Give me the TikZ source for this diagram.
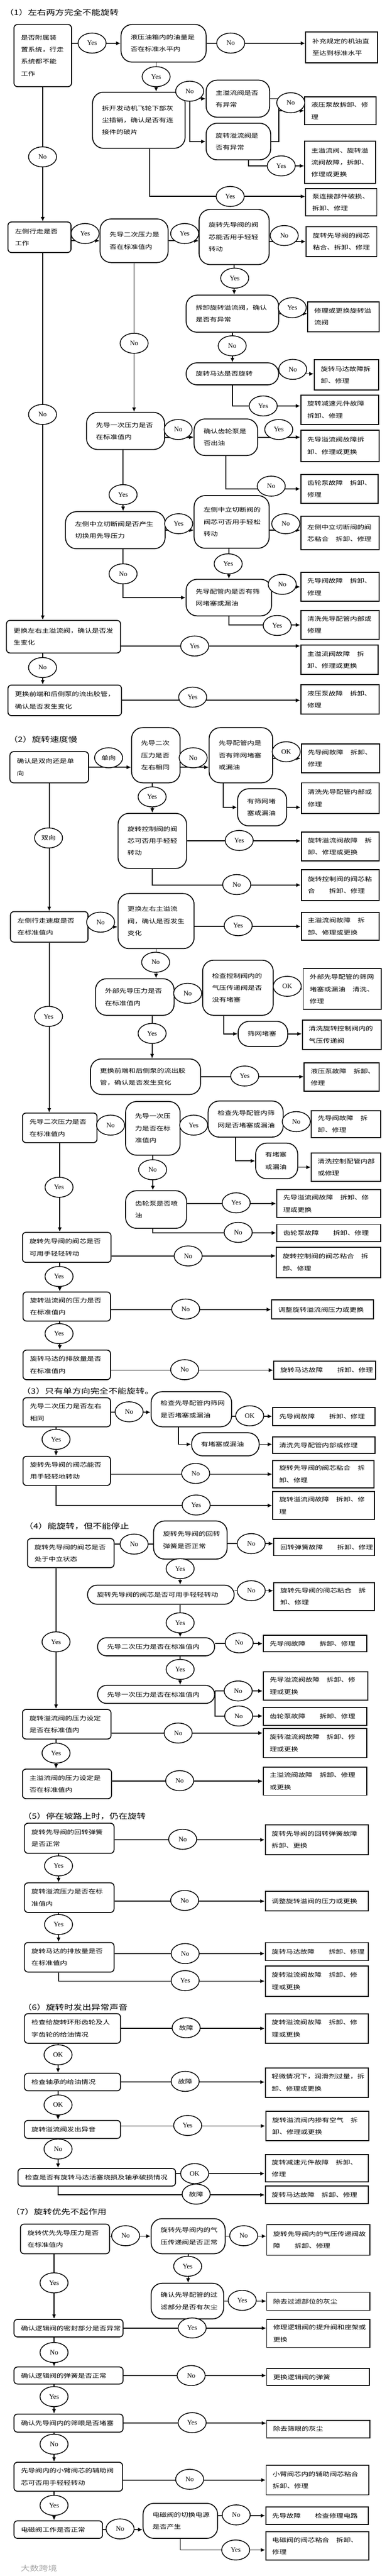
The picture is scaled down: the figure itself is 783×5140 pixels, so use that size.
\documentclass[tikz,border=0pt]{standalone}
\usepackage{fontspec}
\setmainfont{Liberation Serif}
\newfontfamily\cjk[FakeStretch=1.25]{Noto Sans CJK SC}
\usepackage{tikz}
\usetikzlibrary{positioning,shapes.geometric,arrows.meta,backgrounds}
\newcommand{\boxfont}{\cjk\fontsize{11.4pt}{24pt}\selectfont}
\newcommand{\hdfont}{\cjk\fontsize{14.5pt}{18pt}\selectfont}
\newcommand{\ynfont}{\fontsize{13.5pt}{15pt}\selectfont}
\tikzset{
	qbox/.style={draw,line width=1.8pt,rounded corners=7pt,anchor=north west,inner xsep=14pt,inner ysep=0pt,align=left,font=\boxfont},
	sbox/.style={draw,line width=1.8pt,rounded corners=22pt,anchor=north west,inner xsep=19pt,inner ysep=0pt,align=left,font=\boxfont},
	abox/.style={draw,line width=2pt,anchor=north west,inner xsep=13pt,inner ysep=0pt,align=left,font=\boxfont},
	yn/.style={draw,ellipse,line width=1.6pt,fill=white,minimum width=56pt,minimum height=40pt,inner sep=0pt,font=\ynfont},
	ynz/.style={yn,font=\boxfont},
	hd/.style={anchor=west,font=\hdfont},
	wire/.style={line width=1.8pt},
	arrw/.style={wire,-{Latex[length=9pt,width=8pt]}},
}
\begin{document}
\begin{tikzpicture}[x=1pt,y=-1pt]
		\useasboundingbox (0,0) rectangle (783,5140);

		\node[hd] (h1) at (6,25) {（1）左右两方完全不能旋转};
		\node[qbox,text width=87pt,minimum height=124pt] (q1a) at (27,48) {是否附属装\\置系统，行走\\系统都不能\\工作};
		\node[sbox,text width=132pt,minimum height=75pt] (q1b) at (241,48) {液压油箱内的油量是\\否在标准水平内};
		\node[abox,text width=118pt,minimum height=61pt] (f1a) at (610,63) {补充规定的机油直\\至达到标准水平};
		\node[sbox,text width=147pt,minimum height=112pt] (q1c) at (184,183) {拆开发动机飞轮下部灰\\尘插销，确认是否有连\\接件的破片};
		\node[sbox,text width=89pt,minimum height=74pt] (q1d) at (411,159) {主溢流阀是否\\有异常};
		\node[sbox,text width=91pt,minimum height=73pt] (q1e) at (411,245) {旋转溢流阀是\\否有异常};
		\node[abox,text width=116pt,minimum height=56pt] (f1b) at (608,192) {液压泵故拆卸、修\\理};
		\node[abox,text width=115pt,minimum height=84pt] (f1c) at (608,281) {主溢流阀、旋转溢\\流阀故障，拆卸、\\修理或更换};
		\node[abox,text width=116pt,minimum height=55pt] (f1d) at (610,375) {泵连接部件破损、\\拆卸、修理};
		\node[qbox,text width=98pt,minimum height=61pt] (q1f) at (15,442) {左侧行走是否\\工作};
		\node[sbox,text width=98pt,minimum height=87pt] (q1g) at (199,436) {先导二次压力是\\否在标准值内};
		\node[sbox,text width=102pt,minimum height=110pt] (q1h) at (397,417) {旋转先导阀的阀\\芯能否用手轻轻\\转动};
		\node[abox,text width=115pt,minimum height=60pt] (f1e) at (611,451) {旋转先导阀的阀芯\\粘合、拆卸、修理};
		\node[sbox,text width=147pt,minimum height=74pt] (q1i) at (371,588) {拆卸旋转溢流阀，确认\\是否有异常};
		\node[abox,text width=117pt,minimum height=60pt] (f1f) at (614,601) {修理或更换旋转溢\\流阀};
		\node[sbox,text width=147pt,minimum height=44pt] (q1j) at (371,723) {旋转马达是否旋转};
		\node[abox,text width=103pt,minimum height=60pt] (f1g) at (627,717) {旋转马达故障拆\\卸、修理};
		\node[abox,text width=130pt,minimum height=59pt] (f1h) at (600,787) {旋转减速元件故障\\拆卸、修理};
		\node[sbox,text width=118pt,minimum height=74pt] (q1k) at (172,822) {先导一次压力是否\\在标准值内};
		\node[sbox,text width=89pt,minimum height=73pt] (q1l) at (387,835) {确认齿轮泵是\\否出油};
		\node[abox,text width=131pt,minimum height=63pt] (f1i) at (600,857) {先导溢流阀故障拆\\卸、修理或更换};
		\node[abox,text width=129pt,minimum height=57pt] (f1j) at (600,946) {齿轮泵故障　拆卸、\\修理};
		\node[sbox,text width=161pt,minimum height=74pt] (q1m) at (130,1020) {左侧中立切断阀是否产生\\切换用先导压力};
		\node[sbox,text width=112pt,minimum height=105pt] (q1n) at (387,988) {左侧中立切断阀的\\阀芯可否用手轻松\\转动};
		\node[abox,text width=131pt,minimum height=67pt] (f1k) at (600,1029) {左侧中立切断阀的阀\\芯粘合　拆卸、修理};
		\node[sbox,text width=133pt,minimum height=73pt] (q1o) at (371,1155) {先导配管内是否有筛\\网堵塞或漏油};
		\node[abox,text width=131pt,minimum height=58pt] (f1l) at (600,1141) {先导阀故障　拆卸、\\修理};
		\node[abox,text width=131pt,minimum height=58pt] (f1m) at (600,1217) {清洗先导配管内部或\\修理};
		\node[qbox,text width=200pt,minimum height=65pt] (q1p) at (12,1237) {更换左右主溢流阀，确认是否发\\生变化};
		\node[abox,text width=129pt,minimum height=59pt] (f1n) at (600,1286) {主溢流阀故障　拆\\卸、修理或更换};
		\node[qbox,text width=199pt,minimum height=61pt] (q1q) at (15,1366) {更换前端和后侧泵的流出胶管，\\确认是否发生变化};
		\node[abox,text width=131pt,minimum height=59pt] (f1o) at (600,1365) {液压泵故障　拆卸、\\修理};

		\node[yn] (t1a) at (184,86) {Yes};
		\node[yn] (t1b) at (461,86) {No};
		\node[yn] (t1c) at (312,153) {Yes};
		\node[yn] (t1d) at (379,182) {No};
		\node[yn] (t1e) at (581,205) {No};
		\node[yn] (t1f) at (562,331) {Yes};
		\node[yn] (t1g) at (460,392) {Yes};
		\node[yn] (t1h) at (85,313) {No};
		\node[yn] (t1i) at (170,466) {Yes};
		\node[yn] (t1j) at (369,466) {Yes};
		\node[yn] (t1k) at (568,470) {No};
		\node[yn] (t1l) at (469,555) {Yes};
		\node[yn] (t1m) at (584,614) {Yes};
		\node[yn] (t1n) at (464,690) {No};
		\node[yn] (t1o) at (585,737) {No};
		\node[yn] (t1p) at (526,810) {Yes};
		\node[yn] (t1q) at (268,685) {No};
		\node[yn] (t1r) at (85,827) {No};
		\node[yn] (t1s) at (356,857) {No};
		\node[yn] (t1t) at (557,857) {Yes};
		\node[yn] (t1u) at (542,970) {No};
		\node[yn] (t1v) at (246,987) {Yes};
		\node[yn] (t1w) at (357,1045) {Yes};
		\node[yn] (t1x) at (571,1045) {No};
		\node[yn] (t1y) at (456,1125) {Yes};
		\node[yn] (t1z) at (246,1145) {No};
		\node[yn] (t1A) at (564,1166) {No};
		\node[yn] (t1B) at (554,1248) {Yes};
		\node[yn] (t1C) at (389,1289) {Yes};
		\node[yn] (t1D) at (85,1332) {No};
		\node[yn] (t1E) at (385,1391) {Yes};

		\node[hd] (h2) at (14,1475) {（2）旋转速度慢};
		\node[qbox,text width=129pt,minimum height=62pt] (q2a) at (19,1499) {确认是双向还是单\\向};
		\node[sbox,text width=59pt,minimum height=110pt] (q2b) at (262,1451) {先导二次\\压力是否\\左右相同};
		\node[sbox,text width=89pt,minimum height=110pt] (q2c) at (417,1451) {先导配管内是\\否有筛网堵塞\\或漏油};
		\node[abox,text width=131pt,minimum height=58pt] (f2a) at (601,1483) {先导阀故障　拆卸、\\修理};
		\node[sbox,text width=60pt,minimum height=74pt] (q2d) at (474,1573) {有筛网堵\\塞或漏油};
		\node[abox,text width=130pt,minimum height=61pt] (f2b) at (601,1561) {清洗先导配管内部或\\修理};
		\node[sbox,text width=99pt,minimum height=110pt] (q2e) at (235,1622) {旋转控制阀的阀\\芯可否用手轻轻\\转动};
		\node[abox,text width=130pt,minimum height=58pt] (f2c) at (601,1659) {旋转溢流阀故障　拆\\卸、修理或更换};
		\node[abox,text width=130pt,minimum height=62pt] (f2d) at (601,1734) {旋转控制阀的阀芯粘\\合　　拆卸、修理};
		\node[qbox,text width=127pt,minimum height=61pt] (q2f) at (20,1818) {左侧行走速度是否\\在标准值内};
		\node[sbox,text width=114pt,minimum height=110pt] (q2g) at (235,1782) {更换左右主溢流\\阀，确认是否发生\\变化};
		\node[abox,text width=130pt,minimum height=55pt] (f2e) at (601,1820) {主溢流阀故障　拆\\卸、修理或更换};
		\node[sbox,text width=119pt,minimum height=73pt] (q2h) at (190,1952) {外部先导压力是否\\在标准值内};
		\node[sbox,text width=103pt,minimum height=110pt] (q2i) at (404,1915) {检查控制阀内的\\气压传递阀是否\\没有堵塞};
		\node[abox,text width=130pt,minimum height=81pt] (f2f) at (605,1932) {外部先导配管的筛网\\堵塞或漏油　清洗、\\修理};
		\node[sbox,text width=61pt,minimum height=50pt] (q2j) at (475,2037) {筛网堵塞};
		\node[abox,text width=132pt,minimum height=59pt] (f2g) at (603,2034) {清洗旋转控制阀内的\\气压传递阀};
		\node[sbox,text width=182pt,minimum height=71pt] (q2k) at (180,2112) {更换前端和后侧泵的流出胶\\管，确认是否发生变化};
		\node[abox,text width=124pt,minimum height=56pt] (f2h) at (607,2120) {液压泵故障　拆卸、\\修理};
		\node[qbox,text width=121pt,minimum height=59pt] (q2l) at (44,2220) {先导二次压力是否\\在标准值内};
		\node[sbox,text width=71pt,minimum height=107pt] (q2m) at (250,2197) {先导一次压\\力是否在标\\准值内};
		\node[sbox,text width=112pt,minimum height=72pt] (q2n) at (415,2196) {检查先导配管内筛\\网是否堵塞或漏油};
		\node[abox,text width=113pt,minimum height=54pt] (f2i) at (621,2215) {先导阀故障　拆\\卸、修理};
		\node[sbox,text width=46pt,minimum height=71pt] (q2o) at (510,2280) {有堵塞\\或漏油};
		\node[abox,text width=113pt,minimum height=56pt] (f2j) at (621,2300) {清洗控制配管内部\\或修理};
		\node[sbox,text width=84pt,minimum height=75pt] (q2p) at (250,2375) {齿轮泵是否喷\\油};
		\node[abox,text width=182pt,minimum height=55pt] (f2k) at (552,2373) {先导溢流阀故障　拆卸、修\\理或更换};
		\node[abox,text width=182pt,minimum height=34pt] (f2l) at (552,2442) {齿轮泵故障　　拆卸、修理};
		\node[qbox,text width=149pt,minimum height=60pt] (q2q) at (44,2458) {旋转先导阀的阀芯是否\\可用手轻轻转动};
		\node[abox,text width=183pt,minimum height=60pt] (f2m) at (551,2488) {旋转控制阀的阀芯粘合　拆\\卸、修理};
		\node[qbox,text width=147pt,minimum height=58pt] (q2r) at (45,2577) {旋转溢流阀的压力是否\\在标准值内};
		\node[abox,text width=177pt,minimum height=38pt] (f2n) at (542,2593) {调整旋转溢流阀压力或更换};
		\node[qbox,text width=147pt,minimum height=59pt] (q2s) at (45,2693) {旋转马达的排放量是否\\在标准值内};
		\node[abox,text width=177pt,minimum height=36pt] (f2o) at (546,2715) {旋转马达故障　　拆卸、修理};

		\node[ynz] (t2a) at (217,1512) {单向};
		\node[yn] (t2b) at (386,1512) {No};
		\node[yn] (t2c) at (572,1500) {OK};
		\node[yn] (t2d) at (304,1590) {Yes};
		\node[yn] (t2e) at (478,1677) {Yes};
		\node[ynz] (t2f) at (97,1672) {双向};
		\node[yn] (t2g) at (473,1765) {No};
		\node[yn] (t2h) at (201,1840) {No};
		\node[yn] (t2i) at (476,1847) {Yes};
		\node[yn] (t2j) at (311,1920) {No};
		\node[yn] (t2k) at (375,1982) {No};
		\node[yn] (t2l) at (574,1968) {OK};
		\node[yn] (t2m) at (304,2062) {Yes};
		\node[yn] (t2n) at (489,2147) {Yes};
		\node[yn] (t2o) at (97,2028) {Yes};
		\node[yn] (t2p) at (221,2245) {No};
		\node[yn] (t2q) at (387,2245) {Yes};
		\node[yn] (t2r) at (592,2238) {No};
		\node[yn] (t2s) at (305,2334) {No};
		\node[yn] (t2t) at (472,2400) {Yes};
		\node[yn] (t2u) at (476,2459) {No};
		\node[yn] (t2v) at (118,2369) {Yes};
		\node[yn] (t2w) at (376,2506) {No};
		\node[yn] (t2x) at (118,2547) {Yes};
		\node[yn] (t2y) at (371,2612) {No};
		\node[yn] (t2z) at (118,2661) {Yes};
		\node[yn] (t2A) at (369,2733) {No};

		\node[hd] (h3) at (40,2776) {（3）只有单方向完全不能旋转。};
		\node[qbox,text width=147pt,minimum height=58pt] (q3a) at (45,2788) {先导二次压力是否左右\\相同};
		\node[sbox,text width=123pt,minimum height=70pt] (q3b) at (301,2776) {检查先导配管内筛网\\是否堵塞或漏油};
		\node[abox,text width=178pt,minimum height=36pt] (f3a) at (544,2807) {先导阀故障　　拆卸、修理};
		\node[sbox,text width=97pt,minimum height=46pt] (q3c) at (382,2858) {有堵塞或漏油};
		\node[abox,text width=178pt,minimum height=33pt] (f3b) at (544,2866) {清洗先导配管内部或修理};
		\node[qbox,text width=147pt,minimum height=58pt] (q3d) at (45,2905) {旋转先导阀的阀芯能否\\用手轻轻地转动};
		\node[abox,text width=176pt,minimum height=55pt] (f3c) at (544,2913) {旋转先导阀的阀芯粘合　拆\\卸、修理};
		\node[abox,text width=177pt,minimum height=56pt] (f3d) at (544,2975) {旋转溢流阀故障　拆卸、修\\理};

		\node[yn] (t3a) at (258,2817) {No};
		\node[yn] (t3b) at (499,2825) {OK};
		\node[yn] (t3c) at (112,2872) {Yes};
		\node[yn] (t3d) at (391,2940) {No};
		\node[yn] (t3e) at (392,3003) {Yes};

		\node[hd] (h4) at (45,3045) {（4）能旋转，但不能停止};
		\node[qbox,text width=145pt,minimum height=58pt] (q4a) at (54,3069) {旋转先导阀的阀芯是否\\处于中立状态};
		\node[sbox,text width=109pt,minimum height=76pt] (q4b) at (306,3034) {旋转先导阀的回转\\弹簧是否正常};
		\node[abox,text width=175pt,minimum height=34pt] (f4a) at (546,3069) {回转弹簧故障　　拆卸、修理};
		\node[sbox,rounded corners=19pt,text width=255pt,minimum height=38pt] (q4c) at (174,3162) {旋转先导阀的阀芯是否可用手轻轻转动};
		\node[abox,text width=175pt,minimum height=55pt] (f4b) at (546,3157) {旋转先导阀的阀芯粘合　拆\\卸、修理};
		\node[sbox,rounded corners=18pt,text width=196pt,minimum height=36pt] (q4d) at (194,3267) {先导二次压力是否在标准值内};
		\node[abox,text width=181pt,minimum height=33pt] (f4c) at (525,3262) {先导阀故障　　拆卸、修理};
		\node[sbox,rounded corners=18pt,text width=196pt,minimum height=36pt] (q4e) at (194,3362) {先导一次压力是否在标准值内};
		\node[abox,text width=183pt,minimum height=56pt] (f4d) at (525,3335) {先导溢流阀故障　拆卸、修\\理或更换};
		\node[abox,text width=181pt,minimum height=36pt] (f4e) at (525,3406) {齿轮泵故障　　拆卸、修理};
		\node[qbox,text width=149pt,minimum height=59pt] (q4f) at (44,3410) {旋转溢流阀的压力设定\\是否在标准值内};
		\node[abox,text width=181pt,minimum height=58pt] (f4f) at (525,3448) {旋转溢流阀故障　拆卸、修\\理或更换};
		\node[qbox,text width=150pt,minimum height=59pt] (q4g) at (44,3529) {主溢流阀的压力设定是\\否在标准值内};
		\node[abox,text width=181pt,minimum height=56pt] (f4g) at (525,3525) {主溢流阀故障　拆卸、修理\\或更换};

		\node[yn] (t4a) at (268,3081) {No};
		\node[yn] (t4b) at (502,3080) {No};
		\node[yn] (t4c) at (360,3130) {Yes};
		\node[yn] (t4d) at (502,3174) {No};
		\node[yn] (t4e) at (360,3238) {Yes};
		\node[yn] (t4f) at (478,3278) {No};
		\node[yn] (t4g) at (360,3331) {Yes};
		\node[yn] (t4h) at (476,3374) {No};
		\node[yn] (t4i) at (477,3424) {No};
		\node[yn] (t4j) at (112,3276) {Yes};
		\node[yn] (t4k) at (356,3458) {No};
		\node[yn] (t4l) at (112,3498) {Yes};
		\node[yn] (t4m) at (359,3553) {No};

		\node[hd] (h5) at (42,3624) {（5）停在坡路上时，仍在旋转};
		\node[qbox,text width=151pt,minimum height=60pt] (q5a) at (48,3637) {旋转先导阀的回转弹簧\\是否正常};
		\node[abox,text width=180pt,minimum height=60pt] (f5a) at (529,3640) {旋转先导阀的回转弹簧故障\\拆卸、更换};
		\node[qbox,text width=151pt,minimum height=59pt] (q5b) at (48,3756) {旋转溢流压力是否在标\\准值内};
		\node[abox,text width=180pt,minimum height=39pt] (f5b) at (529,3773) {调整旋转溢阀的压力或更换};
		\node[qbox,text width=151pt,minimum height=59pt] (q5c) at (48,3875) {旋转马达的排放量是否\\在标准值内};
		\node[abox,text width=180pt,minimum height=36pt] (f5c) at (529,3875) {旋转马达故障　　拆卸、修理};
		\node[abox,text width=180pt,minimum height=60pt] (f5d) at (529,3922) {旋转溢流阀故障　拆卸、修\\理或更换};

		\node[yn] (t5a) at (365,3670) {No};
		\node[yn] (t5b) at (117,3723) {Yes};
		\node[yn] (t5c) at (369,3792) {No};
		\node[yn] (t5d) at (117,3840) {Yes};
		\node[yn] (t5e) at (370,3898) {No};
		\node[yn] (t5f) at (370,3952) {Yes};

		\node[hd] (h6) at (42,4005) {（6）旋转时发出异常声音};
		\node[qbox,text width=164pt,minimum height=59pt] (q6a) at (48,4017) {检查给旋转环形齿轮及人\\字齿轮的给油情况};
		\node[abox,text width=180pt,minimum height=59pt] (f6a) at (529,4017) {旋转溢流阀故障　拆卸、修\\理或更换};
		\node[qbox,text width=164pt,minimum height=35pt] (q6b) at (48,4136) {检查轴承的给油情况};
		\node[abox,text width=180pt,minimum height=59pt] (f6b) at (529,4125) {轻微情况下，润滑剂过量，拆\\卸、修理或更换};
		\node[qbox,text width=164pt,minimum height=36pt] (q6c) at (48,4230) {旋转溢流阀发出异音};
		\node[abox,text width=180pt,minimum height=58pt] (f6c) at (530,4212) {旋转溢流阀内掺有空气　拆\\卸、修理或更换};
		\node[qbox,text width=287pt,minimum height=35pt] (q6d) at (35,4326) {检查是否有旋转马达活塞烧损及轴承破损情况};
		\node[abox,text width=180pt,minimum height=55pt] (f6d) at (529,4298) {旋转减速元件故障　拆卸、\\修理};
		\node[abox,text width=180pt,minimum height=35pt] (f6e) at (529,4361) {旋转马达故障　拆卸、修理};

		\node[ynz] (t6a) at (372,4046) {故障};
		\node[yn] (t6b) at (116,4100) {OK};
		\node[ynz] (t6c) at (370,4153) {故障};
		\node[yn] (t6d) at (116,4200) {OK};
		\node[yn] (t6e) at (375,4241) {Yes};
		\node[yn] (t6f) at (116,4288) {No};
		\node[yn] (t6g) at (389,4337) {OK};
		\node[ynz] (t6h) at (392,4378) {故障};

		\node[hd] (h7) at (18,4413) {（7）旋转优先不起作用};
		\node[qbox,text width=150pt,minimum height=59pt] (q7a) at (40,4437) {旋转优先先导压力是否\\在标准值内};
		\node[sbox,text width=110pt,minimum height=70pt] (q7b) at (301,4426) {旋转先导阀内的气\\压传递阀是否正常};
		\node[abox,text width=180pt,minimum height=61pt] (f7a) at (532,4438) {旋转先导阀内的气压传递阀故\\障　　拆卸、修理};
		\node[sbox,text width=107pt,minimum height=71pt] (q7c) at (301,4555) {确认先导配管的过\\滤部分是否有灰尘};
		\node[abox,text width=180pt,minimum height=36pt] (f7b) at (532,4573) {除去过滤部位的灰尘};
		\node[qbox,text width=190pt,minimum height=35pt] (q7d) at (27,4627) {确认逻辑阀的密封部分是否异常};
		\node[abox,text width=180pt,minimum height=56pt] (f7c) at (532,4627) {修理逻辑阀的提升阀和座架或\\更换};
		\node[qbox,text width=190pt,minimum height=34pt] (q7e) at (27,4722) {确认逻辑阀的弹簧是否正常};
		\node[abox,text width=179pt,minimum height=34pt] (f7d) at (532,4725) {更换逻辑阀的弹簧};
		\node[qbox,text width=190pt,minimum height=36pt] (q7f) at (27,4816) {确认先导阀内的筛眼是否堵塞};
		\node[abox,text width=180pt,minimum height=35pt] (f7e) at (532,4828) {除去筛眼的灰尘};
		\node[qbox,text width=189pt,minimum height=58pt] (q7g) at (27,4912) {先导阀内的小臂阀芯的辅助阀\\芯可否用手轻轻转动};
		\node[abox,text width=179pt,minimum height=59pt] (f7f) at (531,4918) {小臂阀芯内的辅助阀芯粘合\\拆卸、修理};
		\node[qbox,text width=149pt,minimum height=35pt] (q7h) at (27,5029) {电磁阀工作是否正常};
		\node[sbox,text width=111pt,minimum height=70pt] (q7i) at (285,4994) {电磁阀的切换电源\\是否产生};
		\node[abox,text width=179pt,minimum height=35pt] (f7g) at (530,5001) {先导故障　　检查修理电路};
		\node[abox,text width=180pt,minimum height=56pt] (f7h) at (530,5051) {电磁阀的阀芯粘合　拆卸、\\修理};

		\node[yn] (t7a) at (251,4461) {No};
		\node[yn] (t7b) at (487,4461) {No};
		\node[yn] (t7c) at (375,4522) {Yes};
		\node[yn] (t7d) at (484,4590) {Yes};
		\node[yn] (t7e) at (108,4555) {Yes};
		\node[yn] (t7f) at (384,4645) {Yes};
		\node[yn] (t7g) at (108,4694) {No};
		\node[yn] (t7h) at (382,4740) {No};
		\node[yn] (t7i) at (108,4782) {Yes};
		\node[yn] (t7j) at (384,4834) {Yes};
		\node[yn] (t7k) at (108,4877) {No};
		\node[yn] (t7l) at (379,4947) {No};
		\node[yn] (t7m) at (108,4999) {Yes};
		\node[yn] (t7n) at (240,5046) {No};
		\node[yn] (t7o) at (472,5018) {No};
		\node[yn] (t7p) at (471,5088) {Yes};

		\node[anchor=west,text=black!35,font=\hdfont] (wm) at (38,5125) {大数跨境};

		\begin{scope}[on background layer]
		\fill[white] (0,0) rectangle (783,5140);
		\draw[arrw] (q1a.east |- q1b.west)--(q1b.west);
		\draw[arrw] (q1b.east)--(q1b.east -| f1a.west);
		\draw[arrw] (t1c |- q1b.south)--(t1c |- q1c.north);
		\draw[arrw] (q1c.east |- q1d.west)--(q1d.west);
		\draw[arrw] (t1d |- q1d.west) |- (q1e.west);
		\coordinate (m1a) at ([xshift=15pt]q1e.east |- f1b.west);
		\draw[wire] (q1d.east) -| (m1a);
		\draw[wire] (q1e.east) -| (m1a);
		\draw[arrw] (m1a)--(f1b.west);
		\draw[arrw] ([xshift=20pt]q1e.south) |- (t1f -| f1c.west);
		\draw[arrw] ([xshift=22pt]q1c.south) |- (t1g -| f1d.west);
		\draw[arrw] (q1a.south)--(q1a.south |- q1f.north);
		\draw[arrw] (q1f.east |- q1g.west)--(q1g.west);
		\draw[arrw] (q1g.east)--(q1g.east -| q1h.west);
		\draw[arrw] (q1h.east |- f1e.west)--(f1e.west);
		\draw[arrw] (q1h.south)--(q1h.south |- q1i.north);
		\draw[arrw] (q1i.east)--(q1i.east -| f1f.west);
		\draw[arrw] (q1i.south)--(q1j.north);
		\draw[arrw] (q1j.east)--(q1j.east -| f1g.west);
		\draw[arrw] (q1j.south) |- (t1p -| f1h.west);
		\draw[arrw] (q1g.south)--(q1g.south |- q1k.north);
		\draw[arrw] (q1f.south -| q1a.south)--(q1a.south |- q1p.north);
		\draw[arrw] (q1k.east |- q1l.west)--(q1l.west);
		\draw[arrw] (q1l.east)--(q1l.east -| f1i.west);
		\draw[arrw] (q1l.south) |- (f1j.west);
		\draw[arrw] (t1v |- q1k.south)--(t1v |- q1m.north);
		\draw[arrw] (q1m.east)--(q1m.east -| q1n.west);
		\draw[arrw] (q1n.east |- q1m.east)--(q1m.east -| f1k.west);
		\draw[arrw] (q1o.north |- q1n.south)--(q1o.north);
		\draw[arrw] (t1v |- q1m.south) |- (q1o.west);
		\draw[arrw] (q1o.east |- f1l.west)--(f1l.west);
		\draw[arrw] (q1o.south) |- (f1m.west);
		\draw[arrw] (q1p.east |- t1C)--(t1C -| f1n.west);
		\draw[arrw] (q1a.south |- q1p.south)--(q1a.south |- q1q.north);
		\draw[arrw] (q1q.east)--(q1q.east -| f1o.west);

		\draw[arrw] (q2a.east)--(q2a.east -| q2b.west);
		\draw[arrw] (q2b.east |- q2a.east)--(q2a.east -| q2c.west);
		\draw[arrw] (q2c.east |- f2a.west)--(f2a.west);
		\draw[arrw] ([xshift=-35pt]q2c.south) |- (q2d.west);
		\draw[arrw] (q2d.east)--(q2d.east -| f2b.west);
		\draw[arrw] (q2e.north |- q2b.south)--(q2e.north);
		\draw[arrw] (q2e.east)--(q2e.east -| f2c.west);
		\draw[arrw] (q2e.south) |- (f2d.west);
		\draw[arrw] (q2a.south)--(q2f.north);
		\draw[arrw] (q2f.east)--(q2f.east -| q2g.west);
		\draw[arrw] (q2g.east |- f2e.west)--(f2e.west);
		\draw[arrw] (q2g.south)--(q2g.south |- q2h.north);
		\draw[arrw] (q2h.east)--(q2h.east -| q2i.west);
		\draw[arrw] (q2i.east |- f2f.west)--(f2f.west);
		\draw[arrw] ([xshift=-28pt]q2i.south) |- (q2j.west);
		\draw[arrw] (q2j.east)--(q2j.east -| f2g.west);
		\draw[arrw] (t2m |- q2h.south)--(t2m |- q2k.north);
		\draw[arrw] (q2k.east)--(q2k.east -| f2h.west);
		\draw[arrw] (q2f.south)--(q2f.south |- q2l.north);
		\draw[arrw] (q2l.east)--(q2l.east -| q2m.west);
		\draw[arrw] (q2m.east)--(q2m.east -| q2n.west);
		\draw[arrw] (q2n.east |- f2i.west)--(f2i.west);
		\draw[arrw] ([xshift=-20pt]q2n.south) |- (q2o.west);
		\draw[arrw] (q2o.east |- f2j.west)--(f2j.west);
		\draw[arrw] (q2m.south)--(q2m.south |- q2p.north);
		\draw[arrw] (q2p.east |- f2k.west)--(f2k.west);
		\draw[arrw] (q2m.south |- q2p.south) |- (f2l.west);
		\draw[arrw] (q2l.south)--(q2l.south |- q2q.north);
		\draw[arrw] (q2q.east |- t2w)--(t2w -| f2m.west);
		\draw[arrw] (q2l.south |- q2q.south)--(q2l.south |- q2r.north);
		\draw[arrw] (q2r.east |- f2n.west)--(f2n.west);
		\draw[arrw] (q2l.south |- q2r.south)--(q2l.south |- q2s.north);
		\draw[arrw] (q2s.east |- f2o.west)--(f2o.west);

		\draw[arrw] (q3a.east)--(q3a.east -| q3b.west);
		\draw[arrw] (q3b.east |- f3a.west)--(f3a.west);
		\draw[arrw] ([xshift=-26pt]q3b.south) |- (q3c.west);
		\draw[arrw] (q3c.east)--(q3c.east -| f3b.west);
		\draw[arrw] (t3c |- q3a.south)--(t3c |- q3d.north);
		\draw[arrw] (q3d.east |- f3c.west)--(f3c.west);
		\draw[arrw] (t3c |- q3d.south) |- (f3d.west);

		\draw[wire] (q4a.east |- t4a)--(t4a -| q4b.west);
		\draw[arrw] (q4b.east |- t4b)--(t4b -| f4a.west);
		\draw[arrw] (t4c |- q4b.south)--(t4c |- q4c.north);
		\draw[arrw] (q4c.east |- t4d)--(t4d -| f4b.west);
		\draw[arrw] (t4c |- q4c.south)--(t4c |- q4d.north);
		\draw[arrw] (q4d.east |- f4c.west)--(f4c.west);
		\draw[arrw] (t4c |- q4d.south)--(t4c |- q4e.north);
		\draw[arrw] (q4e.east |- t4h)--(t4h -| f4d.west);
		\draw[arrw] (q4e.east |- t4h) |- (t4i -| f4e.west);
		\draw[arrw] (t4j |- q4a.south)--(t4j |- q4f.north);
		\draw[arrw] (q4f.east |- t4k)--(t4k -| f4f.west);
		\draw[arrw] (t4j |- q4f.south)--(t4j |- q4g.north);
		\draw[arrw] (q4g.east |- f4g.west)--(f4g.west);

		\draw[arrw] (q5a.east |- f5a.west)--(f5a.west);
		\draw[arrw] (t5b |- q5a.south)--(t5b |- q5b.north);
		\draw[arrw] (q5b.east |- f5b.west)--(f5b.west);
		\draw[arrw] (t5b |- q5b.south)--(t5b |- q5c.north);
		\draw[arrw] (q5c.east |- t5e)--(t5e -| f5c.west);
		\draw[arrw] (t5b |- q5c.south) |- (f5d.west);

		\draw[arrw] (q6a.east)--(q6a.east -| f6a.west);
		\draw[arrw] (t6b |- q6a.south)--(t6b |- q6b.north);
		\draw[arrw] (q6b.east)--(q6b.east -| f6b.west);
		\draw[arrw] (t6b |- q6b.south)--(t6b |- q6c.north);
		\draw[arrw] (q6c.east |- f6c.west)--(f6c.west);
		\draw[arrw] (t6b |- q6c.south)--(t6b |- q6d.north);
		\draw[arrw] (q6d.east |- t6g)--(t6g -| f6d.west);
		\draw[arrw] (t6b |- q6d.south) |- (f6e.west);

		\draw[arrw] (q7a.east |- q7b.west)--(q7b.west);
		\draw[arrw] (q7b.east)--(q7b.east -| f7a.west);
		\draw[arrw] (q7b.south)--(q7b.south |- q7c.north);
		\draw[arrw] (q7c.east)--(q7c.east -| f7b.west);
		\draw[arrw] (t7e |- q7a.south)--(t7e |- q7d.north);
		\draw[arrw] (q7d.east)--(q7d.east -| f7c.west);
		\draw[arrw] (t7e |- q7d.south)--(t7e |- q7e.north);
		\draw[arrw] (q7e.east)--(q7e.east -| f7d.west);
		\draw[arrw] (t7e |- q7e.south)--(t7e |- q7f.north);
		\draw[arrw] (q7f.east)--(q7f.east -| f7e.west);
		\draw[arrw] (t7e |- q7f.south)--(t7e |- q7g.north);
		\draw[arrw] (q7g.east |- f7f.west)--(f7f.west);
		\draw[arrw] (t7e |- q7g.south)--(t7e |- q7h.north);
		\draw[arrw] (q7h.east)--(q7h.east -| q7i.west);
		\draw[arrw] (q7i.east |- f7g.west)--(f7g.west);
		\draw[arrw] (q7i.south) |- (t7p -| f7h.west);
		\end{scope}
	\end{tikzpicture}
\end{document}
